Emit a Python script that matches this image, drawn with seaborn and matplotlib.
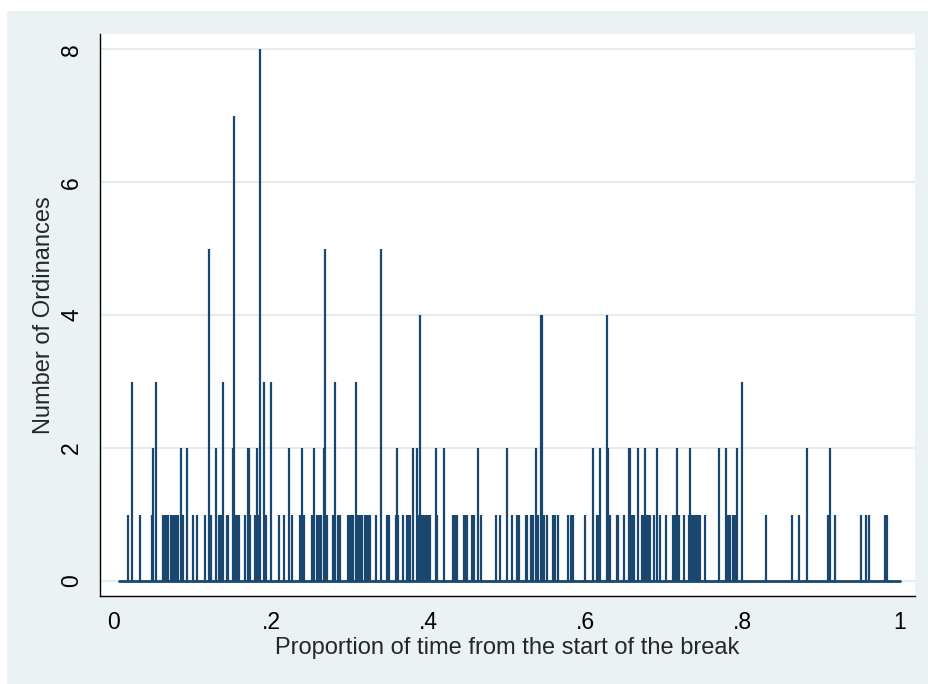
import numpy as np
import pandas as pd
import matplotlib
matplotlib.use("Agg")
import matplotlib.pyplot as plt
from matplotlib.patches import Rectangle
import seaborn as sns

# spike positions (proportion of break) and counts
prop_time = [
    0.0182, 0.0225, 0.0327, 0.0480, 0.0500, 0.0531, 0.0620, 0.0640, 0.0662, 0.0683,
    0.0725, 0.0747, 0.0767, 0.0789, 0.0810, 0.0852, 0.0874, 0.0929, 0.1001, 0.1052,
    0.1158, 0.1205, 0.1234, 0.1298, 0.1340, 0.1361, 0.1391,
    0.1434, 0.1454, 0.1510, 0.1527, 0.1548, 0.1569, 0.1590, 0.1667, 0.1701, 0.1714,
    0.1730, 0.1794, 0.1819, 0.1841, 0.1858, 0.1908, 0.1934, 0.2001, 0.2099, 0.2159,
    0.2223, 0.2261, 0.2366, 0.2392, 0.2417, 0.2523, 0.2545, 0.2583, 0.2604, 0.2634,
    0.2668, 0.2688, 0.2714, 0.2790, 0.2808,
    0.2854, 0.2875, 0.2981, 0.3003, 0.3024, 0.3045, 0.3079, 0.3108, 0.3130, 0.3151,
    0.3193, 0.3215, 0.3235, 0.3257, 0.3333, 0.3397, 0.3469, 0.3495, 0.3584, 0.3601,
    0.3617, 0.3681, 0.3724, 0.3744, 0.3766, 0.3800, 0.3859, 0.3872, 0.3893, 0.3915,
    0.3935, 0.3957, 0.3978, 0.3999, 0.4020, 0.4093, 0.4113, 0.4198,
    0.4317, 0.4338, 0.4368, 0.4453, 0.4475, 0.4495, 0.4558, 0.4580, 0.4631, 0.4673,
    0.4856, 0.4915, 0.5000, 0.5060, 0.5123, 0.5149, 0.5242, 0.5258, 0.5305, 0.5327,
    0.5369, 0.5398, 0.5429, 0.5445, 0.5467, 0.5505, 0.5589,
    0.5607, 0.5653, 0.5780, 0.5814, 0.5840, 0.5996, 0.6094, 0.6149, 0.6167, 0.6187,
    0.6268, 0.6289, 0.6314, 0.6396, 0.6416, 0.6489, 0.6552, 0.6569, 0.6594, 0.6612,
    0.6667, 0.6714, 0.6734, 0.6756, 0.6777, 0.6803, 0.6823, 0.6874, 0.6908, 0.6947,
    0.7023, 0.7116, 0.7137, 0.7159, 0.7188, 0.7256, 0.7319, 0.7332, 0.7350, 0.7370,
    0.7392, 0.7417, 0.7443, 0.7455, 0.7523, 0.7701, 0.7790, 0.7816, 0.7837, 0.7875,
    0.7897, 0.7930, 0.7994, 0.8295,
    0.8626, 0.8711, 0.8813, 0.9088, 0.9109, 0.9177, 0.9508, 0.9567, 0.9609, 0.9809,
    0.9831,
]
n_ordinances = [
    1, 3, 1, 1, 2, 3, 1, 1, 1, 1,
    1, 1, 1, 1, 1, 2, 1, 2, 1, 1,
    1, 5, 1, 2, 1, 1, 3,
    1, 1, 2, 7, 1, 1, 1, 1, 2, 2,
    1, 1, 2, 1, 8, 3, 1, 3, 1, 1,
    2, 1, 1, 2, 1, 1, 2, 1, 1, 1,
    2, 5, 1, 1, 3,
    1, 1, 1, 1, 1, 1, 3, 1, 1, 1,
    1, 1, 1, 1, 1, 5, 1, 1, 1, 2,
    1, 1, 1, 1, 1, 2, 2, 1, 4, 1,
    1, 1, 1, 1, 1, 2, 1, 2,
    1, 1, 1, 1, 1, 1, 1, 1, 2, 1,
    1, 1, 2, 1, 1, 1, 1, 1, 1, 1,
    2, 1, 4, 4, 1, 1, 1,
    1, 1, 1, 1, 1, 1, 2, 1, 1, 2,
    4, 2, 1, 1, 1, 1, 2, 2, 1, 1,
    2, 1, 1, 2, 1, 1, 1, 1, 2, 1,
    1, 1, 1, 2, 1, 1, 1, 2, 1, 1,
    1, 1, 1, 1, 1, 2, 2, 1, 1, 1,
    1, 2, 3, 1,
    1, 1, 2, 1, 2, 1, 1, 1, 1, 1,
    1,
]
# first and last observed times (zero counts) -> baseline
zero_time = [0.006, 1.0]

x_ticks = [0, 0.2, 0.4, 0.6, 0.8, 1]
x_ticklabels = ["0", ".2", ".4", ".6", ".8", "1"]
y_ticks = [0, 2, 4, 6, 8]

navy = "#1a476f"
bg = "#eaf2f3"

sns.set_theme(style="white")
plt.rcParams["font.family"] = ["Liberation Sans", "DejaVu Sans"]

df = pd.DataFrame({"t": prop_time, "n": n_ordinances})

fig = plt.figure(figsize=(9.29, 6.84), dpi=100)
fig.patch.set_facecolor("white")
fig.patches.append(Rectangle((7 / 929, 0), 1, 1 - 11 / 684, transform=fig.transFigure,
                             facecolor=bg, edgecolor="none", zorder=-10))
ax = fig.add_axes([100 / 929, 88 / 684, 815 / 929, 562 / 684])
ax.set_facecolor("white")

for yv in y_ticks:
    ax.axhline(yv, color="#e3ecee", lw=1.4, zorder=0)

sns.lineplot(x=zero_time, y=[0] * len(zero_time), color=navy, lw=2, ax=ax, zorder=2)
ax.vlines(df["t"], 0, df["n"], color=navy, lw=1.6, zorder=3)

ax.set_xlim(-0.0178, 1.019)
ax.set_ylim(-0.226, 8.23)
ax.set_xticks(x_ticks)
ax.set_xticklabels(x_ticklabels)
ax.set_yticks(y_ticks)
ax.set_yticklabels([str(v) for v in y_ticks], rotation=90, va="center")

for s in ["top", "right"]:
    ax.spines[s].set_visible(False)
for s in ["left", "bottom"]:
    ax.spines[s].set_color("black")
    ax.spines[s].set_linewidth(1)

ax.tick_params(axis="both", direction="out", length=6, width=0.9, color="black",
               labelsize=16.5, labelcolor="black")
ax.tick_params(axis="x", pad=5)
ax.tick_params(axis="y", pad=6)

ax.set_xlabel("Proportion of time from the start of the break", fontsize=17, labelpad=2)
ax.set_ylabel("Number of Ordinances", fontsize=17, labelpad=4)

fig.savefig("out.png", dpi=100, facecolor=fig.get_facecolor())
